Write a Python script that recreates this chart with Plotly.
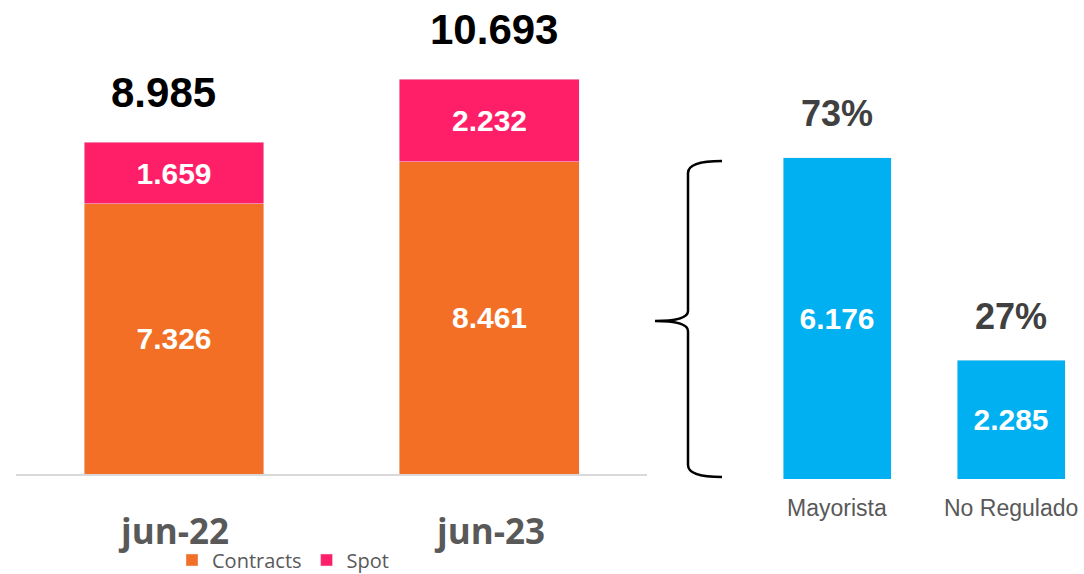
import plotly.graph_objects as go

# ---------------- data ----------------
periods = ["jun-22", "jun-23"]
contracts = [7326, 8461]
spot = [1659, 2232]
segments = ["Mayorista", "No Regulado"]
segment_values = [6176, 2285]
series_names = ["Contracts", "Spot"]

# ---------------- styles ----------------
W, H = 1084, 574
ORANGE = "#F26F25"
PINK = "#FF1F68"
BLUE = "#00B0F0"
GRAY = "#595959"
DARK = "#404040"


def fx(px):
    return px / W


def fy(py):
    return 1 - py / H


totals = [c + s for c, s in zip(contracts, spot)]
seg_total = sum(segment_values)
shares = [v / seg_total for v in segment_values]

fig = go.Figure()

num_font = dict(family="Liberation Sans, Arial", size=30, color="white")

fig.add_trace(go.Bar(
    x=periods, y=contracts, name=series_names[0], marker_color=ORANGE,
    width=0.5705, texttemplate="<b>%{y:,.0f}</b>", textposition="inside",
    insidetextanchor="middle", insidetextfont=num_font, constraintext="none",
    xaxis="x", yaxis="y", hoverinfo="skip",
))
fig.add_trace(go.Bar(
    x=periods, y=spot, name=series_names[1], marker_color=PINK,
    width=0.5705, texttemplate="<b>%{y:,.0f}</b>", textposition="inside",
    insidetextanchor="middle", insidetextfont=num_font, constraintext="none",
    xaxis="x", yaxis="y", hoverinfo="skip",
))
fig.add_trace(go.Bar(
    x=segments, y=segment_values, name="segments", marker_color=BLUE,
    width=0.6207, texttemplate="<b>%{y:,.0f}</b>", textposition="inside",
    insidetextanchor="middle", insidetextfont=num_font, constraintext="none",
    xaxis="x2", yaxis="y2", showlegend=False, hoverinfo="skip",
))

annotations = []
total_xshift = [-10, 5]
for p, t, xs in zip(periods, totals, total_xshift):
    annotations.append(dict(
        x=p, y=t, xref="x", yref="y", text="<b>%s</b>" % f"{t:,}".replace(",", "."),
        showarrow=False, yshift=50, xshift=xs, yanchor="middle",
        font=dict(family="Liberation Sans, Arial", size=42, color="black"),
    ))
    annotations.append(dict(
        x=p, y=fy(530), xref="x", yref="paper", text="<b>%s</b>" % p,
        showarrow=False, yanchor="middle",
        font=dict(family="Open Sans", size=35, color=GRAY),
    ))
for s, v, sh in zip(segments, segment_values, shares):
    annotations.append(dict(
        x=s, y=v, xref="x2", yref="y2", text="<b>%d%%</b>" % round(sh * 100),
        showarrow=False, yshift=44, yanchor="middle",
        font=dict(family="Liberation Sans, Arial", size=36, color=DARK),
    ))
    annotations.append(dict(
        x=s, y=fy(508), xref="x2", yref="paper", text=s,
        showarrow=False, yanchor="middle",
        font=dict(family="Liberation Sans, Arial", size=23, color=GRAY),
    ))

# curly brace
bx, tipx = 688, 655
top, mid, bot = 161, 321, 477
endx = 722
pts = (
    f"M {fx(endx)},{fy(top)} Q {fx(bx)},{fy(top)} {fx(bx)},{fy(top + 12)} "
    f"L {fx(bx)},{fy(mid - 10)} Q {fx(bx)},{fy(mid)} {fx(tipx)},{fy(mid)} "
    f"Q {fx(bx)},{fy(mid)} {fx(bx)},{fy(mid + 10)} "
    f"L {fx(bx)},{fy(bot - 12)} Q {fx(bx)},{fy(bot)} {fx(endx)},{fy(bot)}"
)
shapes = [dict(type="path", path=pts, xref="paper", yref="paper",
               line=dict(color="black", width=2.5))]

left_bottom = 474
right_bottom = 479

fig.update_layout(
    width=W, height=H, autosize=False,
    margin=dict(l=0, r=0, t=0, b=0, pad=0, autoexpand=False),
    paper_bgcolor="white", plot_bgcolor="white",
    barmode="stack", separators=",.",
    showlegend=True,
    legend=dict(orientation="h", x=fx(172), y=fy(560), xref="container", yref="container",
                xanchor="left", yanchor="middle",
                font=dict(family="Open Sans", size=20, color=GRAY),
                bgcolor="rgba(0,0,0,0)", traceorder="normal",
                tracegroupgap=0, itemwidth=30),
    xaxis=dict(domain=[fx(16), fx(647)], range=[-0.5008, 1.4993], type="category",
               showticklabels=False, showgrid=False, zeroline=False,
               showline=True, linecolor="#D9D9D9", linewidth=2, ticks=""),
    yaxis=dict(domain=[fy(left_bottom), 1], range=[0, left_bottom / 36.9 * 1000],
               visible=False, showgrid=False, zeroline=False),
    xaxis2=dict(domain=[fx(720), 1], range=[-0.6724, 1.4195], type="category",
                anchor="y2", showticklabels=False, showgrid=False, zeroline=False,
                showline=False, ticks=""),
    yaxis2=dict(domain=[fy(right_bottom), 1], range=[0, right_bottom / 52.0 * 1000],
                anchor="x2", visible=False, showgrid=False, zeroline=False),
    annotations=annotations,
    shapes=shapes,
)

fig.write_html(
    "out.html",
    config={"displayModeBar": False, "staticPlot": True},
    post_script=(
        "document.documentElement.style.margin='0px';"
        "document.body.style.margin='0px';"
        "document.documentElement.style.overflow='hidden';"
        "document.body.style.overflow='hidden';"
        "var d=document.getElementById('{plot_id}');"
        "d.style.position='fixed';d.style.top='0px';d.style.left='0px';"
    ),
)
